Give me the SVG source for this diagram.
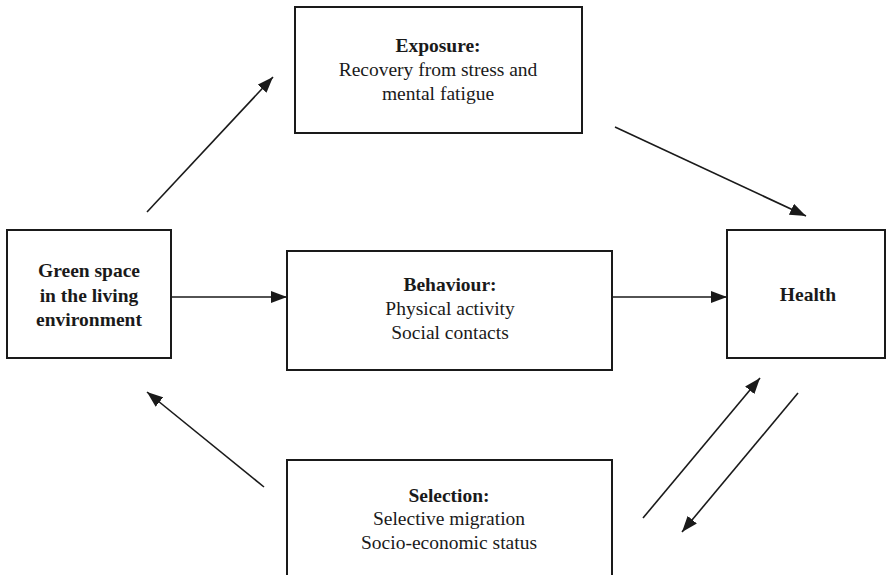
<svg xmlns="http://www.w3.org/2000/svg" width="887" height="575" viewBox="0 0 887 575">
  <style>
    .box { fill: #ffffff; stroke: #1a1a1a; stroke-width: 2; }
    .t { font-family: "Liberation Serif", "Times New Roman", serif; font-size: 19.5px; fill: #1a1a1a; text-anchor: middle; }
    .b { font-weight: bold; }
    .edge { stroke: #1a1a1a; stroke-width: 1.6; fill: none; marker-end: url(#head); }
  </style>
  <defs>
    <marker id="head" viewBox="0 0 16 12" refX="16" refY="6" markerWidth="16" markerHeight="12" markerUnits="userSpaceOnUse" orient="auto">
      <path d="M0,0 L16,6 L0,12 Z" fill="#1a1a1a"/>
    </marker>
  </defs>
  <rect width="887" height="575" fill="#ffffff"/>

  <g id="connectors">
    <line class="edge" x1="147" y1="212" x2="273" y2="77"/>
    <line class="edge" x1="615" y1="127" x2="806" y2="216"/>
    <line class="edge" x1="171" y1="297" x2="287" y2="297"/>
    <line class="edge" x1="612" y1="297" x2="727" y2="297"/>
    <line class="edge" x1="264" y1="487" x2="147" y2="392"/>
    <line class="edge" x1="643" y1="518" x2="760" y2="378"/>
    <line class="edge" x1="798" y1="393" x2="682" y2="532"/>
  </g>

  <g id="green-space">
    <rect class="box" x="7" y="230" width="164" height="128"/>
    <text class="t b" x="89" y="277">Green space</text>
    <text class="t b" x="89" y="302">in the living</text>
    <text class="t b" x="89" y="326">environment</text>
  </g>

  <g id="exposure">
    <rect class="box" x="295" y="7" width="287" height="126"/>
    <text class="t b" x="438" y="52">Exposure:</text>
    <text class="t" x="438" y="76">Recovery from stress and</text>
    <text class="t" x="438" y="100">mental fatigue</text>
  </g>

  <g id="behaviour">
    <rect class="box" x="287" y="251" width="325" height="119"/>
    <text class="t b" x="450" y="291">Behaviour:</text>
    <text class="t" x="450" y="315">Physical activity</text>
    <text class="t" x="450" y="339">Social contacts</text>
  </g>

  <g id="health">
    <rect class="box" x="727" y="230" width="158" height="128"/>
    <text class="t b" x="808" y="301">Health</text>
  </g>

  <g id="selection">
    <rect class="box" x="287" y="460" width="325" height="130"/>
    <text class="t b" x="449" y="502">Selection:</text>
    <text class="t" x="449" y="525">Selective migration</text>
    <text class="t" x="449" y="549">Socio-economic status</text>
  </g>
</svg>
